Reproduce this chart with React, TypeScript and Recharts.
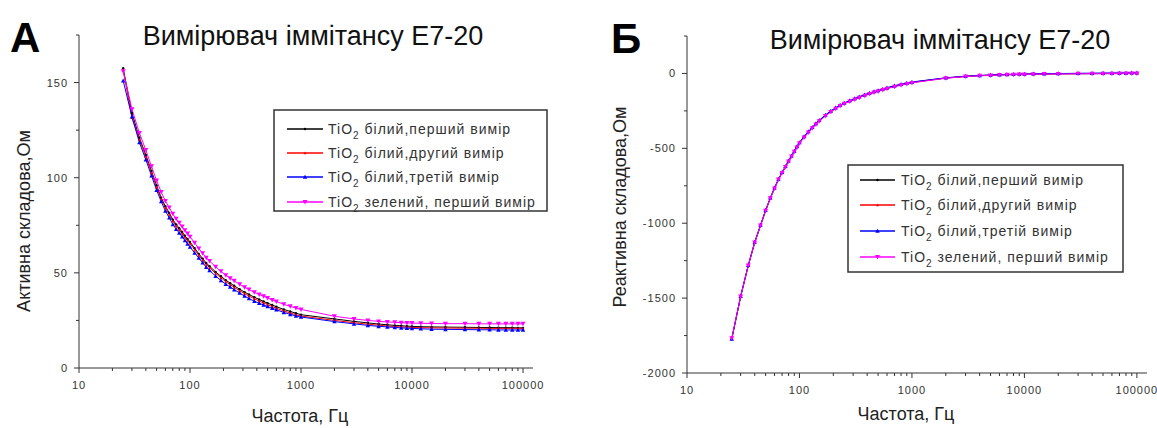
import React from "react"
import { LineChart, Line, XAxis, YAxis } from "recharts"

// measurement frequencies, Hz
const freqs = [
  25, 30, 35, 40, 45, 50, 55, 60, 65, 70, 75, 80, 85, 90, 95, 100,
  110, 120, 130, 140, 150, 170, 190, 210, 230, 250, 280, 310, 340, 380, 420, 460, 500, 550, 600, 700, 800, 900, 1000,
  2000, 3000, 4000, 5000, 6000, 7000, 8000, 9000, 10000,
  12000, 15000, 20000, 30000, 40000, 50000, 60000, 70000, 80000, 90000, 100000,
]

// А: active component, Ohm
const activeWhite1 = [
  157.5, 134, 121, 112, 103.5, 96, 89.5, 85, 81.5, 78, 75.5, 73.5, 71.5, 69.5, 67.8, 66.2,
  63, 60, 57.5, 55.2, 53.5, 50.5, 48.2, 46.2, 44.6, 43.2, 41.4, 39.9, 38.6, 37.2, 36, 35, 34.1, 33.1, 32.2, 30.8, 29.7, 28.8, 28,
  25.8, 24.5, 23.7, 23.1, 22.7, 22.4, 22.2, 22.0, 21.9,
  21.7, 21.6, 21.5, 21.4, 21.3, 21.3, 21.2, 21.2, 21.2, 21.1, 21.1,
]
const activeWhite2 = [
  156.5, 131.5, 120, 111, 102.5, 95, 88.8, 84.2, 80.6, 77.2, 74.6, 72.6, 70.6, 68.7, 67, 65.4,
  62.2, 59.2, 56.7, 54.4, 52.7, 49.7, 47.4, 45.4, 43.8, 42.4, 40.6, 39.1, 37.8, 36.4, 35.2, 34.2, 33.3, 32.3, 31.4, 30, 28.9, 28, 27.3,
  25, 23.8, 23, 22.5, 22.1, 21.8, 21.6, 21.4, 21.3,
  21.2, 21.1, 21.0, 20.9, 20.9, 20.8, 20.8, 20.8, 20.8, 20.8, 20.8,
]
const activeWhite3 = [
  151, 132, 118.5, 109.5, 101, 93.5, 87.5, 82.5, 79, 75.5, 73, 71, 69, 67, 65.2, 63.6,
  60.5, 57.8, 55.3, 53, 51.3, 48.3, 46, 44, 42.6, 41.2, 39.4, 37.8, 36.5, 35.1, 34, 33.1, 32.3, 31.4, 30.6, 29.2, 28.2, 27.4, 26.8,
  24.4, 23.2, 22.4, 21.9, 21.6, 21.3, 21.1, 20.9, 20.8,
  20.6, 20.4, 20.3, 20.2, 20.1, 20.1, 20.0, 20.0, 20.0, 20.0, 20.0,
]
const activeGreen = [
  156, 136, 123.5, 114.5, 106, 98.5, 92.5, 87.8, 84.3, 81, 78.5, 76.3, 74.3, 72.4, 70.7, 69,
  65.8, 62.8, 60.3, 58, 56.2, 53.2, 50.8, 48.8, 47.2, 45.8, 44, 42.5, 41.2, 39.8, 38.6, 37.7, 36.8, 35.8, 34.9, 33.5, 32.4, 31.5, 30.8,
  27.2, 25.8, 25, 24.5, 24.2, 24, 23.8, 23.7, 23.6,
  23.5, 23.4, 23.3, 23.3, 23.2, 23.2, 23.2, 23.2, 23.2, 23.2, 23.2,
]

// Б: reactive component, Ohm
const reactWhite1 = [
  -1775, -1491, -1287, -1131, -1018, -918, -836, -769, -709, -665, -625, -588, -555, -522, -493, -465,
  -425, -392, -363, -338, -316, -281, -254, -232, -214, -200, -185, -171, -159, -146, -134, -125, -117, -107, -99, -86, -76, -67, -60,
  -31, -20, -15, -12, -10, -8.5, -7.5, -6.5, -6,
  -5, -4, -3, -2, -1.5, -1, -1, -0.5, -0.5, 0, 0,
]
const reactWhite2 = [
  -1770, -1488, -1285, -1128, -1015, -915, -833, -766, -707, -662, -622, -585, -552, -520, -490, -462,
  -423, -390, -361, -336, -314, -279, -252, -230, -212, -198, -183, -169, -157, -144, -132, -123, -115, -105, -97, -84, -74, -66, -59,
  -30, -19, -14, -11, -9, -7.5, -6.5, -5.5, -5,
  -4, -3, -2, -1, 0, 0, 0.5, 0.5, 1, 1, 1,
]
const reactWhite3 = [
  -1772, -1486, -1280, -1125, -1012, -912, -830, -762, -704, -660, -620, -583, -550, -517, -488, -460,
  -421, -388, -359, -334, -312, -277, -250, -229, -211, -197, -181, -167, -155, -142, -130, -121, -113, -103, -95, -82, -72, -64, -57,
  -29, -18, -13, -10, -8, -6.5, -5, -4, -3.5,
  -2.5, -1.5, -0.5, 1, 2, 3, 3.5, 4, 4, 4.5, 4.5,
]
const reactGreen = [
  -1768, -1489, -1283, -1129, -1016, -916, -834, -768, -708, -664, -624, -588, -555, -522, -494, -466,
  -428, -395, -366, -341, -319, -284, -257, -235, -217, -203, -188, -174, -162, -149, -137, -128, -120, -110, -102, -89, -79, -70, -63,
  -32, -21, -16, -13, -11, -9, -8, -7, -6.5,
  -5.5, -4.5, -3.5, -2.5, -2, -1.5, -1.5, -1, -1, -0.5, -0.5,
]

const seriesNames = ["білий,перший вимір", "білий,другий вимір", "білий,третій вимір", "зелений, перший вимір"]
const seriesColors = ["#000000", "#ff0000", "#0000ff", "#ff00ff"]
const seriesMarks = ["dot", "tri", "up", "down"]

const xTicks = [
  10, 20, 30, 40, 50, 60, 70, 80, 90,
  100, 200, 300, 400, 500, 600, 700, 800, 900,
  1000, 2000, 3000, 4000, 5000, 6000, 7000, 8000, 9000,
  10000, 20000, 30000, 40000, 50000, 60000, 70000, 80000, 90000, 100000,
]
const xMajor = [10, 100, 1000, 10000, 100000]
const activeTicks = [0, 25, 50, 75, 100, 125, 150, 175]
const activeMajor = [0, 50, 100, 150]
const reactTicks = [-2000, -1750, -1500, -1250, -1000, -750, -500, -250, 0, 250]
const reactMajor = [-2000, -1500, -1000, -500, 0]

const title = "Вимірювач іммітансу Е7-20"
const FONT = '"Liberation Sans", Arial, sans-serif'
const INK = "#333"

const activeRows = freqs.map((f, i) => ({
  f, s0: activeWhite1[i], s1: activeWhite2[i], s2: activeWhite3[i], s3: activeGreen[i],
}))
const reactRows = freqs.map((f, i) => ({
  f, s0: reactWhite1[i], s1: reactWhite2[i], s2: reactWhite3[i], s3: reactGreen[i],
}))

function marker(kind: string, cx: number, cy: number, color: string, key?: any) {
  if (kind === "dot") return <circle key={key} cx={cx} cy={cy} r={1.2} fill={color} />
  if (kind === "tri") return <path key={key} d={`M${cx - 1.5},${cy + 1.2}L${cx + 1.5},${cy + 1.2}L${cx},${cy - 1.5}Z`} fill={color} />
  if (kind === "up") return <path key={key} d={`M${cx - 2.2},${cy + 1.8}L${cx + 2.2},${cy + 1.8}L${cx},${cy - 2.2}Z`} fill={color} />
  return <path key={key} d={`M${cx - 2.5},${cy - 2}L${cx + 2.5},${cy - 2}L${cx},${cy + 2.5}Z`} fill={color} />
}

const makeDot = (kind: string, color: string) => (p: any) => {
  if (p.cx == null || p.cy == null) return <g key={p.index} />
  return marker(kind, p.cx, p.cy, color, p.index)
}

const XTick = (p: any) => {
  const v = p.payload.value
  const major = xMajor.includes(v)
  return (
    <g>
      <line x1={p.x} y1={p.y} x2={p.x} y2={p.y + (major ? 5 : 3)} stroke={INK} />
      {major && (
        <text x={p.x} y={p.y + 21} textAnchor="middle" fontSize={11} fill={INK} letterSpacing={1} fontFamily={FONT}>
          {v}
        </text>
      )}
    </g>
  )
}

const makeYTick = (majors: number[]) => (p: any) => {
  const v = p.payload.value
  const major = majors.includes(v)
  return (
    <g>
      <line x1={p.x - (major ? 5 : 3)} y1={p.y} x2={p.x} y2={p.y} stroke={INK} />
      {major && (
        <text x={p.x - 11} y={p.y + 4} textAnchor="end" fontSize={11} fill={INK} letterSpacing={1} fontFamily={FONT}>
          {v}
        </text>
      )}
    </g>
  )
}

function Panel({ rows, width, margin, domain, ticks, majors }: any) {
  return (
    <LineChart width={width} height={428} data={rows} margin={margin}>
      <XAxis
        dataKey="f"
        type="number"
        scale="log"
        domain={[10, 123000]}
        ticks={xTicks}
        interval={0}
        allowDataOverflow
        height={30}
        tickSize={0}
        tickMargin={0}
        tick={XTick}
        axisLine={{ stroke: INK }}
      />
      <YAxis
        type="number"
        domain={domain}
        ticks={ticks}
        interval={0}
        allowDataOverflow
        width={60}
        tickSize={0}
        tickMargin={0}
        tick={makeYTick(majors)}
        axisLine={{ stroke: INK }}
      />
      {seriesColors.map((c, i) => (
        <Line
          key={i}
          dataKey={`s${i}`}
          type="linear"
          stroke={c}
          strokeWidth={1}
          dot={makeDot(seriesMarks[i], c)}
          activeDot={false}
          isAnimationActive={false}
        />
      ))}
    </LineChart>
  )
}

function LegendBox({ x, y, w, h, rowY, lineX1, lineX2, textX }: any) {
  return (
    <g>
      <rect x={x} y={y} width={w} height={h} fill="#fff" stroke={INK} strokeWidth={1.5} />
      {seriesNames.map((name, i) => (
        <g key={i}>
          <line x1={lineX1} y1={rowY[i]} x2={lineX2} y2={rowY[i]} stroke={seriesColors[i]} strokeWidth={1.5} />
          {marker(seriesMarks[i], (lineX1 + lineX2) / 2, rowY[i], seriesColors[i])}
          <text x={textX} y={rowY[i] + 5} fontSize={14} fill={INK} letterSpacing={1} fontFamily={FONT}>
            <tspan>TiO</tspan>
            <tspan fontSize={10} dy={5}>2</tspan>
            <tspan dy={-5}> {name}</tspan>
          </text>
        </g>
      ))}
    </g>
  )
}

export default function App() {
  return (
    <div style={{ position: "absolute", left: 0, top: 0, width: 1157, height: 428, background: "#fff", overflow: "hidden" }}>
      <div style={{ position: "absolute", left: 0, top: 0 }}>
        <Panel
          rows={activeRows}
          width={580}
          margin={{ top: 35, right: 47, left: 19, bottom: 30 }}
          domain={[0, 175]}
          ticks={activeTicks}
          majors={activeMajor}
        />
      </div>
      <div style={{ position: "absolute", left: 580, top: 0 }}>
        <Panel
          rows={reactRows}
          width={577}
          margin={{ top: 36, right: 10, left: 47, bottom: 25 }}
          domain={[-2000, 250]}
          ticks={reactTicks}
          majors={reactMajor}
        />
      </div>
      <svg width={1157} height={428} style={{ position: "absolute", left: 0, top: 0, pointerEvents: "none" }} fontFamily={FONT}>
        <text x={10} y={52} fontSize={42} fontWeight="bold" fill="#000">А</text>
        <text x={611} y={53} fontSize={42} fontWeight="bold" fill="#000">Б</text>
        <text x={313} y={45} fontSize={27} textAnchor="middle" fill="#111">{title}</text>
        <text x={940} y={49} fontSize={27} textAnchor="middle" fill="#111">{title}</text>
        <text x={300} y={422} fontSize={18} textAnchor="middle" fill="#222">Частота, Гц</text>
        <text x={906} y={420} fontSize={18} textAnchor="middle" fill="#222">Частота, Гц</text>
        <text transform="translate(30,221) rotate(-90)" fontSize={18} textAnchor="middle" fill="#222">Активна складова,Ом</text>
        <text transform="translate(626,207) rotate(-90)" fontSize={18} textAnchor="middle" fill="#222">Реактивна складова,Ом</text>
        <LegendBox x={274} y={110} w={273} h={101} rowY={[129, 153, 177, 202]} lineX1={287} lineX2={323} textX={328} />
        <LegendBox x={848} y={165} w={275} h={107} rowY={[180, 205, 231, 257]} lineX1={860} lineX2={895} textX={901} />
      </svg>
    </div>
  )
}
